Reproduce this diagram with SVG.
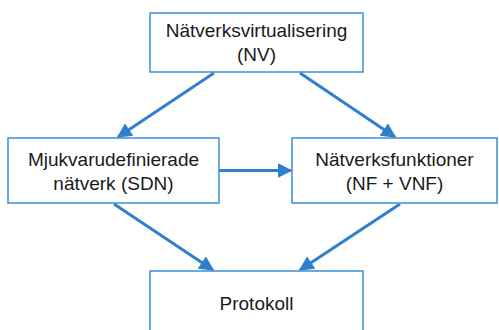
<svg xmlns="http://www.w3.org/2000/svg" width="499" height="330" viewBox="0 0 499 330">
<style>
.box{fill:#fff;stroke:#3b8ed8;stroke-width:1.5}
.t{font-family:"Liberation Sans",Arial,sans-serif;font-size:19px;fill:#1a1a1a;text-anchor:middle}
.c{stroke:#2f80cc;stroke-width:3;fill:none;marker-end:url(#ah)}
</style>
<defs>
<marker id="ah" viewBox="0 0 10 10" refX="9" refY="5" markerWidth="5" markerHeight="5" orient="auto" markerUnits="strokeWidth">
<path d="M0,0 L10,5 L0,10 z" fill="#2f80cc"/>
</marker>
</defs>
<rect width="499" height="330" fill="#fff"/>
<g id="connectors">
<line class="c" x1="214" y1="73" x2="118" y2="137"/>
<line class="c" x1="300" y1="73" x2="395" y2="137"/>
<line class="c" x1="219" y1="170.5" x2="291" y2="170.5"/>
<line class="c" x1="114" y1="204" x2="213" y2="270"/>
<line class="c" x1="400" y1="204" x2="300" y2="270"/>
</g>
<g id="nv">
<rect class="box" x="150" y="13" width="213" height="59"/>
<text class="t" x="256.5" y="37">Nätverksvirtualisering</text>
<text class="t" x="256.5" y="61">(NV)</text>
</g>
<g id="sdn">
<rect class="box" x="8" y="138" width="211" height="65"/>
<text class="t" x="113.5" y="166">Mjukvarudefinierade</text>
<text class="t" x="113.5" y="190">nätverk (SDN)</text>
</g>
<g id="nf">
<rect class="box" x="292" y="138" width="205" height="65"/>
<text class="t" x="394.5" y="166">Nätverksfunktioner</text>
<text class="t" x="394.5" y="190">(NF + VNF)</text>
</g>
<g id="protokoll">
<rect class="box" x="150" y="271" width="213" height="70"/>
<text class="t" x="256.5" y="310">Protokoll</text>
</g>
</svg>
